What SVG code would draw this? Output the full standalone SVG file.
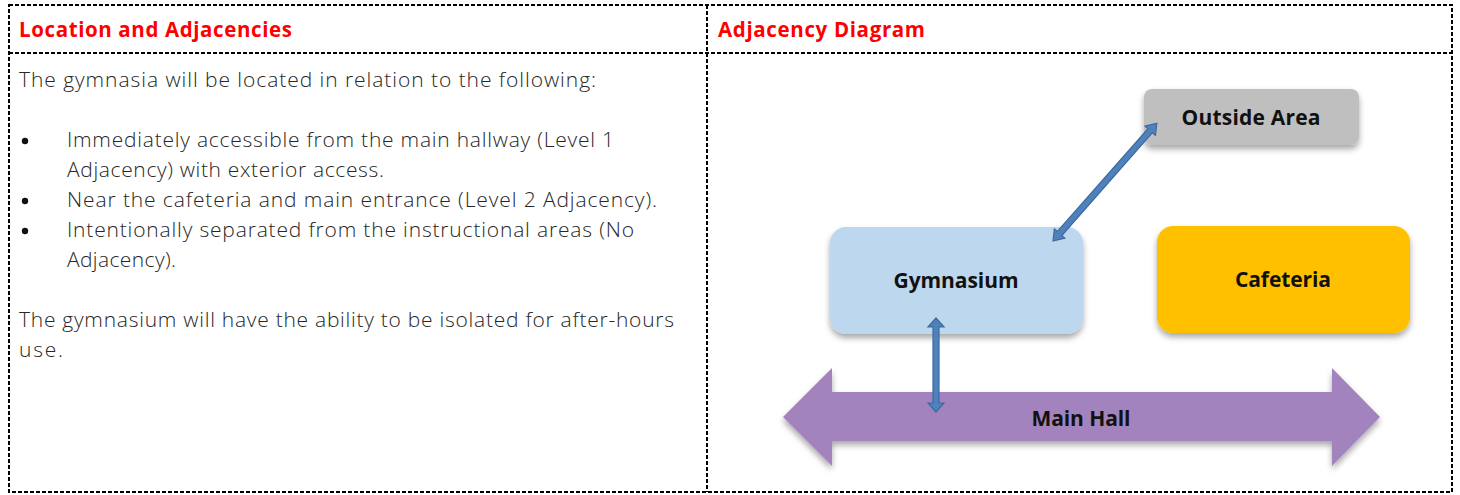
<svg xmlns="http://www.w3.org/2000/svg" width="1460" height="495" viewBox="0 0 1460 495">
<defs>
<style>
.border{fill:none;stroke:#000;stroke-width:2;stroke-dasharray:4 2}
.hdr{font-family:"Open Sans","Liberation Sans",sans-serif;font-weight:700;font-size:20.5px;fill:#ff0000}
.body{font-family:"Open Sans","Liberation Sans",sans-serif;font-weight:300;font-size:21px;fill:#262626}
.lbl{font-family:"Open Sans","Liberation Sans",sans-serif;font-weight:700;font-size:21px;fill:#111;text-anchor:middle;dominant-baseline:central}
.conn{fill:#4f81bd;stroke:#3d6a9e;stroke-width:1.2}
</style>
<filter id="sh" x="-20%" y="-20%" width="140%" height="150%">
<feGaussianBlur in="SourceAlpha" stdDeviation="3"/>
<feOffset dx="0" dy="4"/>
<feComponentTransfer><feFuncA type="linear" slope="0.35"/></feComponentTransfer>
<feMerge><feMergeNode/><feMergeNode in="SourceGraphic"/></feMerge>
</filter>
</defs>
<rect width="1460" height="495" fill="#fff"/>
<g id="table">
<rect class="border" x="9" y="5" width="1443" height="487"/>
<line class="border" x1="9" y1="53" x2="1452" y2="53"/>
<line class="border" x1="707" y1="5" x2="707" y2="492"/>
<text class="hdr" x="19" y="37" textLength="273">Location and Adjacencies</text>
<text class="hdr" x="718" y="37" textLength="207">Adjacency Diagram</text>
<text class="body" x="19" y="87" textLength="577">The gymnasia will be located in relation to the following:</text>
<circle cx="25" cy="141" r="3.2" fill="#111"/>
<circle cx="25" cy="201" r="3.2" fill="#111"/>
<circle cx="25" cy="231" r="3.2" fill="#111"/>
<text class="body" x="67" y="147" textLength="547">Immediately accessible from the main hallway (Level 1</text>
<text class="body" x="67" y="177" textLength="317">Adjacency) with exterior access.</text>
<text class="body" x="67" y="207" textLength="590">Near the cafeteria and main entrance (Level 2 Adjacency).</text>
<text class="body" x="67" y="237" textLength="567">Intentionally separated from the instructional areas (No</text>
<text class="body" x="67" y="267" textLength="109">Adjacency).</text>
<text class="body" x="19" y="327" textLength="655">The gymnasium will have the ability to be isolated for after-hours</text>
<text class="body" x="19" y="357" textLength="44">use.</text>
</g>
<g id="main-hall">
<polygon points="783,417 832,368 832,392 1332,392 1332,368 1380,417 1332,466 1332,441 832,441 832,466" fill="#a383bd" filter="url(#sh)"/>
<text class="lbl" x="1081" y="418" textLength="99">Main Hall</text>
</g>
<g id="outside-area">
<rect x="1144" y="89" width="215" height="56" rx="8" fill="#bfbfbf" filter="url(#sh)"/>
<text class="lbl" x="1251" y="117" textLength="139">Outside Area</text>
</g>
<g id="gymnasium">
<rect x="830" y="227" width="253" height="107" rx="16" fill="#bdd7ee" filter="url(#sh)"/>
<text class="lbl" x="956" y="280" textLength="125">Gymnasium</text>
</g>
<g id="cafeteria">
<rect x="1157" y="226" width="253" height="107" rx="16" fill="#ffc000" filter="url(#sh)"/>
<text class="lbl" x="1283" y="279" textLength="96">Cafeteria</text>
</g>
<g id="connectors">
<polygon class="conn" points="936,318 944,327 939,327 939,403 944,403 936,412 928,403 933,403 933,327 928,327"/>
<g transform="translate(1053,241) rotate(-48.6)">
<polygon class="conn" points="0,0 10,-7 10,-3 147,-3 147,-7 157,0 147,7 147,3 10,3 10,7"/>
</g>
</g>
</svg>
